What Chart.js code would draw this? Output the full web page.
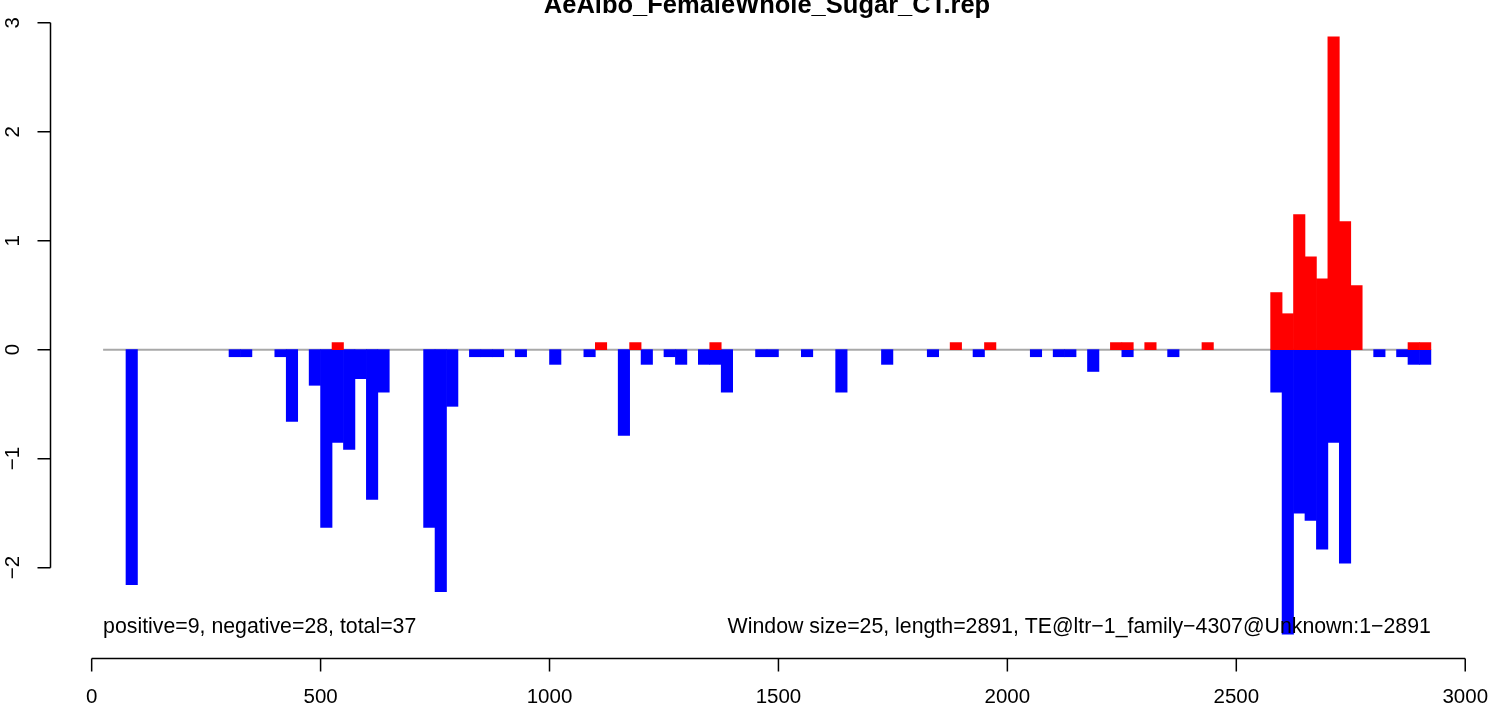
<!DOCTYPE html>
<html>
<head>
<meta charset="utf-8">
<title>AeAlbo_FemaleWhole_Sugar_CT.rep</title>
<script src="https://cdn.jsdelivr.net/npm/chart.js@4.4.1/dist/chart.umd.min.js"></script>
<style>
    html, body { margin: 0; padding: 0; background: #ffffff; }
    #wrap { width: 1493px; height: 706px; }
</style>
</head>
<body>
<div id="wrap"><canvas id="grafico" width="1493" height="706"></canvas></div>
<script>
// finestre da 25 bp: inizio finestra e valore
const windowSize = 25;
const negStarts = [75, 300, 325, 400, 425, 475, 500, 525, 550, 575, 600, 625, 725, 750, 775,
    825, 850, 875, 925, 1000, 1075, 1150, 1200, 1250, 1275, 1325, 1350, 1375, 1450, 1475,
    1550, 1625, 1725, 1825, 1925, 2050, 2100, 2125, 2175, 2250, 2350,
    2575, 2600, 2625, 2650, 2675, 2700, 2725, 2800, 2850, 2875, 2900];
const negValues = [-2.156, -0.065, -0.065, -0.065, -0.658, -0.327, -1.63, -0.85, -0.915, -0.266, -1.373, -0.39, -1.63, -2.22, -0.52,
    -0.065, -0.065, -0.065, -0.065, -0.135, -0.065, -0.786, -0.135, -0.065, -0.135, -0.135, -0.135, -0.39, -0.065, -0.065,
    -0.065, -0.39, -0.135, -0.065, -0.065, -0.065, -0.065, -0.065, -0.2, -0.065, -0.065,
    -0.39, -2.61, -1.5, -1.566, -1.83, -0.85, -1.96, -0.065, -0.065, -0.135, -0.135];
const posStarts = [525, 1100, 1175, 1350, 1875, 1950, 2225, 2250, 2300, 2425,
    2575, 2600, 2625, 2650, 2675, 2700, 2725, 2750, 2875, 2900];
const posValues = [0.065, 0.065, 0.065, 0.065, 0.065, 0.065, 0.065, 0.065, 0.065, 0.065,
    0.524, 0.33, 1.24, 0.853, 0.65, 2.87, 1.175, 0.587, 0.065, 0.065];

// linea dello zero (da inizio a fine sequenza)
const baseStart = 25;
const baseEnd = 2925;

const xTicks = [0, 500, 1000, 1500, 2000, 2500, 3000];
const yTicks = [-2, -1, 0, 1, 2, 3];
const yTickLabels = ['\u22122', '\u22121', '0', '1', '2', '3'];

const titolo = 'AeAlbo_FemaleWhole_Sugar_CT.rep';
const notaSinistra = 'positive=9, negative=28, total=37';
const notaDestra = 'Window size=25, length=2891, TE@ltr\u22121_family\u22124307@Unknown:1\u22122891';
const yNota = -2.55;

const FONT = '"Liberation Sans", Arial, Helvetica, sans-serif';

// limiti come in R (range + 4%)
const allY = negValues.concat(posValues);
const yMinD = Math.min(...allY), yMaxD = Math.max(...allY);
const yExt = (yMaxD - yMinD) * 0.04;
const xExt = (baseEnd - baseStart) * 0.04;

const toPoints = (starts, vals) => starts.map((s, i) => ({ x: s + windowSize / 2, y: vals[i] }));

// assi disegnati in stile R
const assiR = {
    id: 'assiR',
    afterDraw(chart) {
        const ctx = chart.ctx;
        const xs = chart.scales.x;
        const ys = chart.scales.y;
        const area = chart.chartArea;
        const tick = 13;

        ctx.save();
        ctx.strokeStyle = '#000';
        ctx.fillStyle = '#000';
        ctx.lineWidth = 1.5;

        // asse x
        const yb = Math.round(area.bottom) + 0.5;
        ctx.beginPath();
        ctx.moveTo(xs.getPixelForValue(xTicks[0]), yb);
        ctx.lineTo(xs.getPixelForValue(xTicks[xTicks.length - 1]), yb);
        xTicks.forEach(v => {
            const px = xs.getPixelForValue(v);
            ctx.moveTo(px, yb);
            ctx.lineTo(px, yb + tick);
        });
        ctx.stroke();
        ctx.font = '20.5px ' + FONT;
        ctx.textAlign = 'center';
        ctx.textBaseline = 'middle';
        xTicks.forEach(v => {
            ctx.fillText(String(v), xs.getPixelForValue(v), yb + 39);
        });

        // asse y
        const xl = Math.round(area.left) + 0.5;
        ctx.beginPath();
        ctx.moveTo(xl, ys.getPixelForValue(yTicks[0]));
        ctx.lineTo(xl, ys.getPixelForValue(yTicks[yTicks.length - 1]));
        yTicks.forEach(v => {
            const py = ys.getPixelForValue(v);
            ctx.moveTo(xl, py);
            ctx.lineTo(xl - tick, py);
        });
        ctx.stroke();
        yTicks.forEach((v, i) => {
            ctx.save();
            ctx.translate(xl - 37, ys.getPixelForValue(v));
            ctx.rotate(-Math.PI / 2);
            ctx.fillText(yTickLabels[i], 0, 0);
            ctx.restore();
        });

        // titolo
        ctx.font = 'bold 25.5px ' + FONT;
        ctx.textBaseline = 'alphabetic';
        ctx.fillText(titolo, (area.left + area.right) / 2, 13);

        // note in basso
        ctx.font = '21.3px ' + FONT;
        ctx.textBaseline = 'middle';
        const yn = ys.getPixelForValue(yNota);
        ctx.textAlign = 'left';
        ctx.fillText(notaSinistra, xs.getPixelForValue(baseStart), yn);
        ctx.textAlign = 'right';
        ctx.fillText(notaDestra, xs.getPixelForValue(baseEnd), yn);
        ctx.restore();
    }
};

new Chart(document.getElementById('grafico'), {
    type: 'bar',
    data: {
        datasets: [
            {
                type: 'line',
                data: [{ x: baseStart, y: 0 }, { x: baseEnd, y: 0 }],
                borderColor: '#a8a8a8',
                borderWidth: 2,
                pointRadius: 0,
                order: 5
            },
            {
                data: toPoints(posStarts, posValues),
                backgroundColor: '#ff0000',
                borderWidth: 0,
                grouped: false,
                barPercentage: 1,
                categoryPercentage: 1,
                order: 1
            },
            {
                data: toPoints(negStarts, negValues),
                backgroundColor: '#0000ff',
                borderWidth: 0,
                grouped: false,
                barPercentage: 1,
                categoryPercentage: 1,
                order: 2
            }
        ]
    },
    options: {
        responsive: false,
        animation: false,
        devicePixelRatio: 1,
        layout: { padding: { left: 50, right: 9, top: 13, bottom: 48 } },
        plugins: { legend: { display: false }, tooltip: { enabled: false } },
        scales: {
            x: {
                type: 'linear',
                display: false,
                offset: false,
                min: baseStart - xExt,
                max: baseEnd + xExt,
                ticks: { stepSize: 500 }
            },
            y: {
                type: 'linear',
                display: false,
                min: yMinD - yExt,
                max: yMaxD + yExt
            }
        }
    },
    plugins: [assiR]
});
</script>
</body>
</html>
